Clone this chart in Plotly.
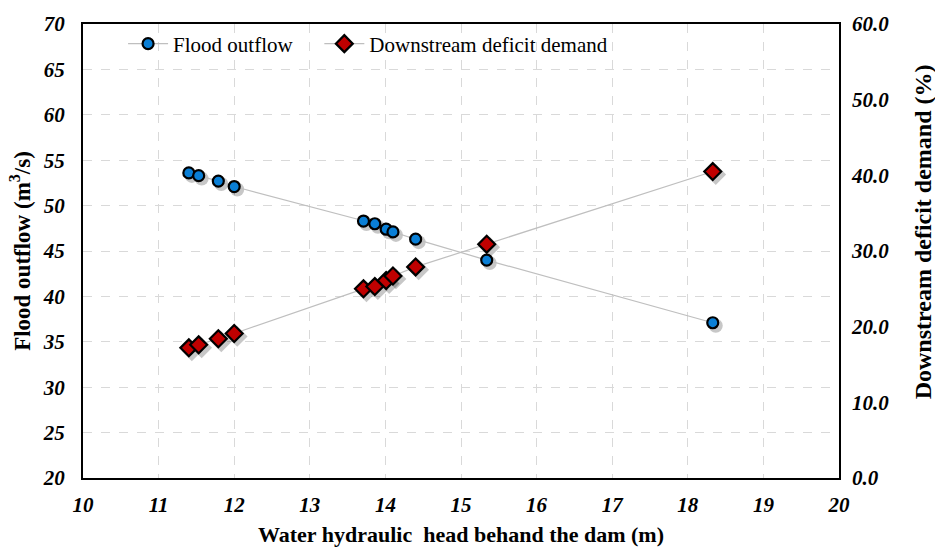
import plotly.graph_objects as go

head_m = [11.40, 11.53, 11.79, 12.00, 13.71, 13.86, 14.01, 14.10, 14.40, 15.34, 18.33]
flood_outflow = [53.6, 53.3, 52.7, 52.1, 48.3, 48.0, 47.4, 47.1, 46.3, 44.0, 37.1]
deficit_demand = [17.2, 17.6, 18.4, 19.1, 25.0, 25.3, 26.1, 26.7, 27.9, 30.9, 40.5]

x_ticks = list(range(10, 21))
y_ticks = list(range(20, 71, 5))
y2_ticks = [0, 10, 20, 30, 40, 50, 60]

X_RANGE = [10, 20]
Y_RANGE = [20, 70]
Y2_RANGE = [0, 60]

SERIF = "Liberation Serif"
tick_font = dict(family=SERIF, size=21, color="black")
title_font = dict(family=SERIF, size=22, color="black")

# plot area size in px (used to express a small drop-shadow offset in data units)
W, H = 935, 555
M_L, M_R, M_T, M_B = 83, 96, 20, 76
plot_w = W - M_L - M_R
plot_h = H - M_T - M_B
SHADOW_PX = 3
dx = SHADOW_PX * (X_RANGE[1] - X_RANGE[0]) / plot_w
dy1 = SHADOW_PX * (Y_RANGE[1] - Y_RANGE[0]) / plot_h
dy2 = SHADOW_PX * (Y2_RANGE[1] - Y2_RANGE[0]) / plot_h


def bi(v):
    return f"<b><i>{v}</i></b>"


fig = go.Figure()
# soft drop shadows
fig.add_trace(go.Scatter(
    x=[v + dx for v in head_m], y=[v - dy1 for v in flood_outflow], mode="markers",
    marker=dict(symbol="circle", size=14, color="rgba(0,0,0,0.22)", line=dict(width=0)),
    showlegend=False, hoverinfo="skip"))
fig.add_trace(go.Scatter(
    x=head_m, y=flood_outflow, name="Flood outflow", mode="lines+markers",
    line=dict(color="#bfbfbf", width=1.2),
    marker=dict(symbol="circle", size=11, color="#0a7fd6", line=dict(color="black", width=2.2)),
    legend="legend",
))
fig.add_trace(go.Scatter(
    x=[v + dx for v in head_m], y=[v - dy2 for v in deficit_demand], mode="markers", yaxis="y2",
    marker=dict(symbol="diamond", size=16, color="rgba(0,0,0,0.22)", line=dict(width=0)),
    showlegend=False, hoverinfo="skip"))
fig.add_trace(go.Scatter(
    x=head_m, y=deficit_demand, name="Downstream deficit demand", mode="lines+markers",
    yaxis="y2",
    line=dict(color="#bfbfbf", width=1.2),
    marker=dict(symbol="diamond", size=13, color="#c00000", line=dict(color="black", width=2.2)),
    legend="legend2",
))

legend_common = dict(orientation="h", yanchor="middle", xanchor="left", y=0.956,
                     font=dict(family=SERIF, size=21, color="black"),
                     bgcolor="rgba(255,255,255,0)", itemwidth=40)

fig.update_layout(
    width=W, height=H,
    margin=dict(l=M_L, r=M_R, t=M_T, b=M_B),
    paper_bgcolor="white", plot_bgcolor="white",
    showlegend=True,
    legend=dict(x=0.053, **legend_common),
    legend2=dict(x=0.3126, **legend_common),
    xaxis=dict(range=X_RANGE, tickvals=x_ticks, ticktext=[bi(v) for v in x_ticks], tickfont=tick_font,
               showgrid=True, gridcolor="#d9d9d9", griddash="dash", gridwidth=1,
               showline=True, linecolor="black", linewidth=2, mirror=True,
               ticks="", ticklabelstandoff=7, zeroline=False,
               title=dict(text="<b>Water hydraulic  head behand the dam (m)</b>", font=title_font, standoff=10)),
    yaxis=dict(range=Y_RANGE, tickvals=y_ticks, ticktext=[bi(v) for v in y_ticks], tickfont=tick_font,
               showgrid=True, gridcolor="#d9d9d9", griddash="dash", gridwidth=1,
               showline=True, linecolor="black", linewidth=2, mirror=True,
               ticks="", ticklabelstandoff=12, zeroline=False,
               title=dict(text="<b>Flood outflow (m<sup>3</sup>/s)</b>",
                          font=dict(family=SERIF, size=23, color="black"), standoff=6)),
    yaxis2=dict(range=Y2_RANGE, tickvals=y2_ticks, ticktext=[bi(f"{v:.1f}") for v in y2_ticks], tickfont=tick_font,
                overlaying="y", side="right", showgrid=False, zeroline=False,
                ticks="", ticklabelstandoff=12),
)

fig.add_annotation(text="<b>Downstream deficit demand (%)</b>", textangle=-90,
                   xref="paper", yref="paper", x=1.1106, y=0.5425,
                   xanchor="center", yanchor="middle", showarrow=False,
                   font=dict(family=SERIF, size=24, color="black"))

fig.write_html("out.html")
